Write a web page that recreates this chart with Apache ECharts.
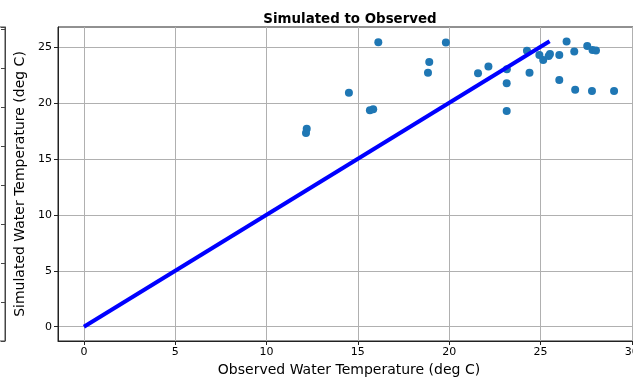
<!DOCTYPE html>
<html>
<head>
<meta charset="utf-8">
<script src="https://cdn.jsdelivr.net/npm/echarts@6/dist/echarts.min.js"></script>
<style>
  html, body { margin: 0; padding: 0; background: #fff; overflow: hidden; }
  #chart { width: 660px; height: 382px; }
</style>
</head>
<body>
<div id="chart"></div>
<script>
// observed vs simulated water temperature (deg C)
const obsTemp = [12.2, 12.16, 14.51, 15.66, 15.84, 16.12, 18.91, 18.84, 19.82, 21.58,
  22.15, 23.16, 23.15, 23.15, 24.26, 24.4, 24.94, 25.15, 25.52, 25.45,
  26.03, 26.03, 26.43, 26.85, 26.9, 27.56, 27.85, 28.04, 27.82, 29.03];
const simTemp = [17.7, 17.3, 20.9, 19.35, 19.44, 25.42, 23.66, 22.7, 25.39, 22.64,
  23.24, 23.0, 21.75, 19.27, 24.66, 22.7, 24.28, 23.84, 24.37, 24.2,
  24.28, 22.04, 25.48, 24.58, 21.18, 25.09, 24.73, 24.67, 21.06, 21.06];
// 1:1 line
const lineX = [0, 25.5];
const lineY = [0, 25.5];
const xTicks = [0, 5, 10, 15, 20, 25, 30];
const yTicks = [0, 5, 10, 15, 20, 25];

const font = 'DejaVu Sans';
const chart = echarts.init(document.getElementById('chart'));

chart.setOption({
  animation: false,
  title: {
    text: 'Simulated to Observed',
    left: 345,
    textAlign: 'center',
    top: 8,
    textStyle: { fontFamily: font, fontSize: 13.4, fontWeight: 'bold', color: '#000' }
  },
  grid: [
    { left: 58, top: 27, width: 582, height: 314, show: true, borderColor: '#222', borderWidth: 1, outerBoundsMode: 'none' },
    // edge of the neighbouring figure on the left
    { left: -200, top: 27, width: 205, height: 314, show: true, borderColor: '#444', borderWidth: 1, outerBoundsMode: 'none' }
  ],
  xAxis: [
    {
      gridIndex: 0,
      type: 'value',
      min: -1.42,
      max: 30.45,
      name: 'Observed Water Temperature (deg C)',
      nameLocation: 'middle',
      nameGap: 22,
      nameTextStyle: { fontFamily: font, fontSize: 14, color: '#000' },
      axisLine: { show: true, onZero: false, lineStyle: { color: '#222', width: 1 } },
      axisTick: { show: true, length: 4, lineStyle: { color: '#222' }, customValues: xTicks },
      axisLabel: { fontFamily: font, fontSize: 11, color: '#000', margin: 6, customValues: xTicks },
      splitLine: { show: true, lineStyle: { color: '#b0b0b0', width: 1 } }
    },
    {
      gridIndex: 1, type: 'value', min: 0, max: 1, show: false
    }
  ],
  yAxis: [
    {
      gridIndex: 0,
      type: 'value',
      min: -1.275,
      max: 26.78,
      name: 'Simulated Water Temperature (deg C)',
      nameLocation: 'middle',
      nameGap: 26,
      nameTextStyle: { fontFamily: font, fontSize: 14, color: '#000' },
      axisLine: { show: true, onZero: false, lineStyle: { color: '#222', width: 1 } },
      axisTick: { show: true, length: 4, lineStyle: { color: '#222' }, customValues: yTicks },
      axisLabel: { fontFamily: font, fontSize: 11, color: '#000', margin: 6, customValues: yTicks },
      splitLine: { show: true, lineStyle: { color: '#b0b0b0', width: 1 } }
    },
    {
      gridIndex: 1,
      type: 'value',
      position: 'right',
      min: 0,
      max: 8.05,
      interval: 1,
      axisLine: { show: true, onZero: false, lineStyle: { color: '#444' } },
      axisTick: { show: true, inside: true, length: 4, lineStyle: { color: '#444' } },
      axisLabel: { show: false },
      splitLine: { show: false }
    }
  ],
  series: [
    {
      type: 'scatter',
      xAxisIndex: 0,
      yAxisIndex: 0,
      symbolSize: 8,
      itemStyle: { color: '#1f77b4', opacity: 1 },
      data: obsTemp.map((x, i) => [x, simTemp[i]]),
      z: 2
    },
    {
      type: 'line',
      xAxisIndex: 0,
      yAxisIndex: 0,
      showSymbol: false,
      lineStyle: { color: '#0000ff', width: 4 },
      data: lineX.map((x, i) => [x, lineY[i]]),
      z: 3
    }
  ]
});
</script>
</body>
</html>
